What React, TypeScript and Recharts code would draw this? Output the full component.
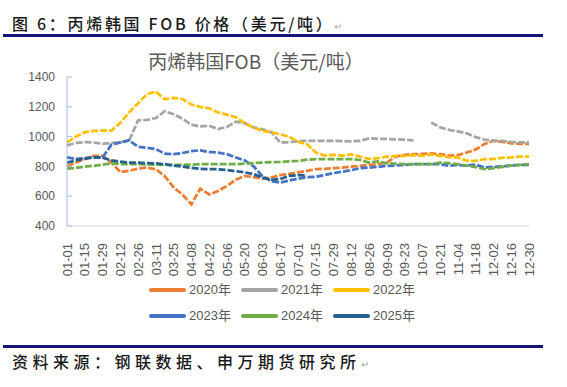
import { LineChart, Line, XAxis, YAxis } from "recharts";

// weekly sample dates (leap-year calendar, as on the source axis)
const DATES = [
  "01-01", "01-08", "01-15", "01-22", "01-29", "02-05", "02-12", "02-19", "02-26", "03-04",
  "03-11", "03-18", "03-25", "04-01", "04-08", "04-15", "04-22", "04-29", "05-06", "05-13",
  "05-20", "05-27", "06-03", "06-10", "06-17", "06-24", "07-01", "07-08", "07-15", "07-22",
  "07-29", "08-05", "08-12", "08-19", "08-26", "09-02", "09-09", "09-16", "09-23", "09-30",
  "10-07", "10-14", "10-21", "10-28", "11-04", "11-11", "11-18", "11-25", "12-02", "12-09",
  "12-16", "12-23", "12-30",
];

const Y_TICKS = [400, 600, 800, 1000, 1200, 1400];

const V2020 = [
  800, 826, 850, 870, 871, 826, 762, 770, 786, 792,
  781, 735, 660, 610, 545, 650, 612, 635, 669, 710,
  736, 728, 718, 725, 742, 750, 760, 770, 781, 784,
  788, 792, 798, 804, 810, 815, 826, 865, 878, 882,
  884, 887, 882, 873, 876, 893, 914, 950, 972, 965,
  955, 952, 952,
];

const V2021 = [
  940, 958, 963, 960, 952, 958, 961, 975, 1109, 1112,
  1125, 1170, 1150, 1120, 1080, 1068, 1073, 1051, 1065, 1100,
  1090, 1062, 1048, 1030, 961, 961, 970, 972, 972, 972,
  972, 970, 968, 972, 988, 985, 984, 982, 979, 975,
  null, 1095, 1062, 1045, 1035, 1022, 996, 980, 972, 972,
  965, 961, 961,
];

const V2022 = [
  961, 1000, 1030, 1038, 1040, 1040, 1092, 1163, 1223, 1285,
  1302, 1250, 1260, 1252, 1215, 1200, 1190, 1162, 1148, 1130,
  1090, 1060, 1038, 1030, 1015, 1000, 965, 950, 893, 873,
  878, 872, 880, 865, 850, 855, 865, 871, 871, 875,
  871, 880, 871, 862, 860, 838, 837, 849, 849, 858,
  860, 866, 866,
];

const V2023 = [
  860, 850, 856, 860, 860, 945, 961, 975, 932, 925,
  916, 885, 882, 890, 903, 908, 897, 893, 882, 860,
  840, 800, 735, 700, 692, 705, 718, 727, 730, 742,
  755, 765, 775, 788, 792, 797, 804, 806, 810, 815,
  815, 815, 815, 805, 810, 805, 812, 792, 797, 800,
  807, 810, 810,
];

const V2024 = [
  785, 790, 798, 804, 812, 820, 816, 815, 815, 814,
  812, 810, 810, 810, 812, 815, 815, 815, 815, 815,
  818, 822, 826, 828, 830, 834, 837, 845, 849, 849,
  849, 849, 849, 843, 826, 833, 820, 818, 815, 815,
  815, 815, 826, 822, 815, 805, 795, 781, 788, 797,
  805, 810, 815,
];

// 2025 data only runs to early July
const V2025 = [
  825, 840, 852, 860, 858, 840, 832, 826, 825, 822,
  820, 815, 805, 798, 790, 784, 781, 781, 775, 768,
  760, 748, 725, 710, 715, 736, 742, 738,
];

const SERIES = [
  { key: "y2020", name: "2020年", color: "#ED7D31", values: V2020 },
  { key: "y2021", name: "2021年", color: "#A5A5A5", values: V2021 },
  { key: "y2022", name: "2022年", color: "#FFC000", values: V2022 },
  { key: "y2023", name: "2023年", color: "#4472C4", values: V2023 },
  { key: "y2024", name: "2024年", color: "#70AD47", values: V2024 },
  { key: "y2025", name: "2025年", color: "#255E91", values: V2025 },
];

const FONT = "'Liberation Sans', Arial, 'Noto Sans CJK SC', sans-serif";
const CJK = "'Noto Sans CJK SC', sans-serif";
const AXIS_BLUE = "#9DBDE6";
const NAVY = "#14147A";

// eslint-disable-next-line @typescript-eslint/no-explicit-any
function DateTick({ x, y, payload }: any) {
  return (
    <text
      x={x}
      y={y + 9}
      transform={`rotate(-90, ${x}, ${y + 9})`}
      textAnchor="end"
      dy="0.36em"
      fontSize={13}
      fontFamily={FONT}
      fill="#595959"
    >
      {payload.value}
    </text>
  );
}

// eslint-disable-next-line @typescript-eslint/no-explicit-any
function ValueTick({ x, y, payload }: any) {
  return (
    <g>
      <line x1={x + 12} x2={x + 17} y1={y} y2={y} stroke={AXIS_BLUE} strokeWidth={1} />
      <text x={x} y={y} dy="0.35em" textAnchor="end" fontSize={12} fontFamily={FONT} fill="#595959">
        {payload.value}
      </text>
    </g>
  );
}

function LegendRow({ items, top }: { items: typeof SERIES; top: number }) {
  return (
    <div style={{ position: "absolute", left: 149, top, display: "flex" }}>
      {items.map((s) => (
        <div key={s.key} style={{ width: 92, display: "flex", alignItems: "center", height: 16 }}>
          <span
            style={{
              width: 37,
              height: 3.5,
              borderRadius: 2,
              background: s.color,
              display: "inline-block",
              marginRight: 3,
            }}
          />
          <span style={{ fontSize: 13, fontFamily: FONT, color: "#595959", lineHeight: "16px" }}>
            {s.name}
          </span>
        </div>
      ))}
    </div>
  );
}

export default function App() {
  const data = DATES.map((date, i) => {
    const row: Record<string, string | number | null> = { date };
    for (const s of SERIES) {
      row[s.key] = s.values[i] ?? null;
    }
    return row;
  });

  return (
    <div
      style={{
        position: "absolute",
        left: 0,
        top: 0,
        width: 567,
        height: 387,
        background: "#fff",
        overflow: "hidden",
      }}
    >
      <div
        style={{
          position: "absolute",
          left: 12,
          top: 13,
          fontSize: 16,
          lineHeight: "20px",
          letterSpacing: 2.7,
          fontFamily: CJK,
          fontWeight: 500,
          color: "#1a1a1a",
          whiteSpace: "nowrap",
        }}
      >
        图 6：丙烯韩国 FOB 价格（美元/吨）
        <span style={{ fontSize: 10, color: "#aaa", letterSpacing: 0 }}>↵</span>
      </div>
      <div style={{ position: "absolute", left: 3, top: 34, width: 540, height: 2.5, background: NAVY }} />

      <div style={{ position: "absolute", left: 0, top: 0 }}>
        <LineChart
          width={567}
          height={387}
          data={data}
          margin={{ top: 77, right: 38, left: 7, bottom: 101 }}
        >
          <XAxis
            dataKey="date"
            interval={1}
            height={60}
            tick={<DateTick />}
            tickLine={false}
            axisLine={{ stroke: "#D9D9D9", strokeWidth: 1 }}
          />
          <YAxis
            width={60}
            domain={[400, 1400]}
            ticks={Y_TICKS}
            tick={<ValueTick />}
            tickLine={false}
            tickSize={0}
            tickMargin={12}
            axisLine={{ stroke: AXIS_BLUE, strokeWidth: 1 }}
          />
          {SERIES.map((s) => (
            <Line
              key={s.key}
              dataKey={s.key}
              name={s.name}
              type="linear"
              stroke={s.color}
              strokeWidth={2.75}
              strokeDasharray="7 2"
              dot={false}
              activeDot={false}
              isAnimationActive={false}
            />
          ))}
        </LineChart>
      </div>

      <div
        style={{
          position: "absolute",
          left: 0,
          width: 512,
          top: 50,
          textAlign: "center",
          fontSize: 19,
          lineHeight: "22px",
          fontFamily: CJK,
          color: "#595959",
        }}
      >
        丙烯韩国FOB（美元/吨）
      </div>

      <LegendRow items={SERIES.slice(0, 3)} top={282} />
      <LegendRow items={SERIES.slice(3)} top={308} />

      <div style={{ position: "absolute", left: 3, top: 345, width: 540, height: 2.5, background: NAVY }} />
      <div
        style={{
          position: "absolute",
          left: 12,
          top: 351,
          fontSize: 16,
          lineHeight: "20px",
          letterSpacing: 4.5,
          fontFamily: CJK,
          fontWeight: 500,
          color: "#1a1a1a",
          whiteSpace: "nowrap",
        }}
      >
        资料来源：钢联数据、申万期货研究所
        <span style={{ fontSize: 10, color: "#aaa", letterSpacing: 0 }}>↵</span>
      </div>
    </div>
  );
}
